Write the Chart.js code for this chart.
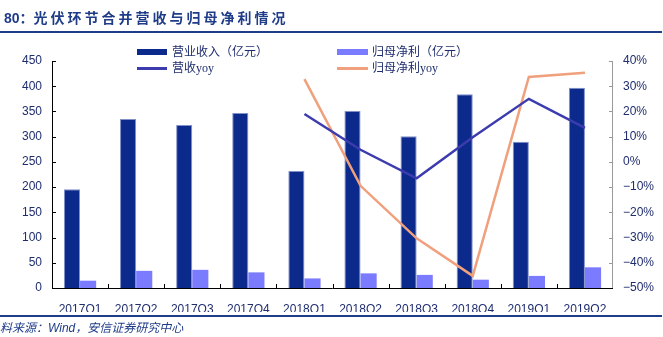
<!DOCTYPE html>
<html>
<head>
<meta charset="utf-8">
<script src="https://cdn.jsdelivr.net/npm/chart.js@4"></script>
<style>
  html, body { margin: 0; padding: 0; background: #fff; }
  #wrap { position: relative; width: 663px; height: 337px; overflow: hidden; }
  #myChart { position: absolute; left: 0; top: 0; }
  .title { position: absolute; left: 4px; top: 7px; font: bold 14px "Liberation Sans", "Noto Sans CJK SC", sans-serif; color: #1f3c88; white-space: nowrap; }
  .title span { letter-spacing: 3px; }
  .rule-top { position: absolute; left: 0; top: 31px; width: 662px; height: 2px; background: #1f3c88; }
  .rule-bot { position: absolute; left: 0; top: 315px; width: 662px; height: 1.5px; background: #1f3c88; }
  .source { position: absolute; left: 0; top: 318px; font: italic 12px "Liberation Sans", "Noto Sans CJK SC", sans-serif; color: #1f3c88; white-space: nowrap; }
  .lg { position: absolute; font: 12px "Liberation Serif", "Noto Sans CJK SC", serif; color: #1f2d6e; white-space: nowrap; line-height: 14px; }
  .sw { position: absolute; }
</style>
</head>
<body>
<div id="wrap">
  <canvas id="myChart" width="663" height="337"></canvas>
  <div class="title">80：<span>光伏环节合并营收与归母净利情况</span></div>
  <div class="rule-top"></div>

  <div class="sw" style="left:137px;top:49px;width:30px;height:6px;background:#0c2a8c;"></div>
  <div class="lg" style="left:172px;top:45px;">营业收入（亿元）</div>
  <div class="sw" style="left:337px;top:49px;width:31px;height:6px;background:#7b7bff;"></div>
  <div class="lg" style="left:372px;top:45px;">归母净利（亿元）</div>
  <div class="sw" style="left:137px;top:67px;width:30px;height:2.5px;background:#3c3cae;"></div>
  <div class="lg" style="left:172px;top:61px;">营收yoy</div>
  <div class="sw" style="left:337px;top:67px;width:31px;height:2.5px;background:#f0a07c;"></div>
  <div class="lg" style="left:372px;top:61px;">归母净利yoy</div>

  <div class="rule-bot"></div>
  <div class="source">料来源：Wind，安信证券研究中心</div>
</div>
<script>
// Data
const quarters = ['2017Q1', '2017Q2', '2017Q3', '2017Q4', '2018Q1', '2018Q2', '2018Q3', '2018Q4', '2019Q1', '2019Q2'];
const revenue = [196, 335, 323, 347, 232, 351, 301, 384, 290, 397];       // 营业收入（亿元）
const netProfit = [14.5, 34, 36, 31, 19, 29, 26, 16.5, 24, 41];           // 归母净利（亿元）
const revenueYoy = [null, null, null, null, 19, 4.8, -6.5, 9.8, 25, 13.5]; // 营收yoy (%)
const profitYoy = [null, null, null, null, 32.8, -9.5, -30.3, -45.2, 33.7, 35.3]; // 归母净利yoy (%)

const textColor = '#1f2d6e';
const tickFont = { family: '"Liberation Sans", Arial, sans-serif', size: 12 };

// draws axis lines with inward tick marks like the original
const axisPlugin = {
    id: 'axisLines',
    afterDatasetsDraw(chart) {
        const c = chart.ctx;
        const a = chart.chartArea;
        const x = chart.scales.x, y = chart.scales.y, y1 = chart.scales.y1;
        c.save();
        c.lineWidth = 1;

        // left axis
        c.strokeStyle = '#000';
        c.beginPath();
        c.moveTo(a.left + 0.5, a.top);
        c.lineTo(a.left + 0.5, a.bottom);
        y.ticks.forEach((t, i) => {
            const py = Math.round(y.getPixelForTick(i)) + 0.5;
            c.moveTo(a.left, py);
            c.lineTo(a.left + 4, py);
        });
        c.stroke();

        // right axis
        c.strokeStyle = '#9a9a9a';
        c.beginPath();
        c.moveTo(a.right - 0.5, a.top);
        c.lineTo(a.right - 0.5, a.bottom);
        y1.ticks.forEach((t, i) => {
            const py = Math.round(y1.getPixelForTick(i)) + 0.5;
            c.moveTo(a.right, py);
            c.lineTo(a.right - 4, py);
        });
        c.stroke();

        // bottom axis
        c.strokeStyle = '#000';
        c.beginPath();
        c.moveTo(a.left, a.bottom + 0.5);
        c.lineTo(a.right, a.bottom + 0.5);
        for (let i = 1; i < quarters.length; i++) {
            const px = Math.round((x.getPixelForValue(i - 1) + x.getPixelForValue(i)) / 2) + 0.5;
            c.moveTo(px, a.bottom);
            c.lineTo(px, a.bottom - 4);
        }
        c.stroke();
        c.restore();
    }
};

const ctx = document.getElementById('myChart').getContext('2d');
const myChart = new Chart(ctx, {
    type: 'bar',
    data: {
        labels: quarters,
        datasets: [
            {
                type: 'line', label: '营收yoy', data: revenueYoy, yAxisID: 'y1',
                borderColor: '#3c3cae', borderWidth: 2.5, pointRadius: 0, fill: false,
                tension: 0, order: 0
            },
            {
                type: 'line', label: '归母净利yoy', data: profitYoy, yAxisID: 'y1',
                borderColor: '#f0a07c', borderWidth: 2.5, pointRadius: 0, fill: false,
                tension: 0, order: 0
            },
            {
                label: '营业收入（亿元）', data: revenue, yAxisID: 'y',
                backgroundColor: '#0c2a8c', borderColor: '#8090c8', borderWidth: { top: 1, left: 1, right: 1, bottom: 0 },
                categoryPercentage: 0.575, barPercentage: 1.0, order: 1
            },
            {
                label: '归母净利（亿元）', data: netProfit, yAxisID: 'y',
                backgroundColor: '#7b7bff', borderWidth: 0,
                categoryPercentage: 0.575, barPercentage: 1.0, order: 1
            }
        ]
    },
    options: {
        responsive: false,
        animation: false,
        devicePixelRatio: 1,
        layout: { padding: { top: 61, bottom: 25, left: 0, right: 0 } },
        plugins: {
            legend: { display: false },
            tooltip: { enabled: false }
        },
        scales: {
            x: {
                grid: { display: false },
                border: { display: false },
                ticks: { color: textColor, font: tickFont, padding: 6, maxRotation: 0, autoSkip: false },
                afterFit: s => { s.height = 24; }
            },
            y: {
                position: 'left',
                min: 0, max: 450,
                grid: { display: false, drawTicks: false },
                border: { display: false },
                ticks: { stepSize: 50, color: textColor, font: tickFont, padding: 10 },
                afterFit: s => { s.width = 52; }
            },
            y1: {
                position: 'right',
                min: -50, max: 40,
                grid: { display: false, drawTicks: false },
                border: { display: false },
                ticks: {
                    stepSize: 10, color: textColor, font: tickFont, padding: 10,
                    callback: v => (v < 0 ? '\u2212' + Math.abs(v) : v) + '%'
                },
                afterFit: s => { s.width = 50; }
            }
        }
    },
    plugins: [axisPlugin]
});
</script>
</body>
</html>
